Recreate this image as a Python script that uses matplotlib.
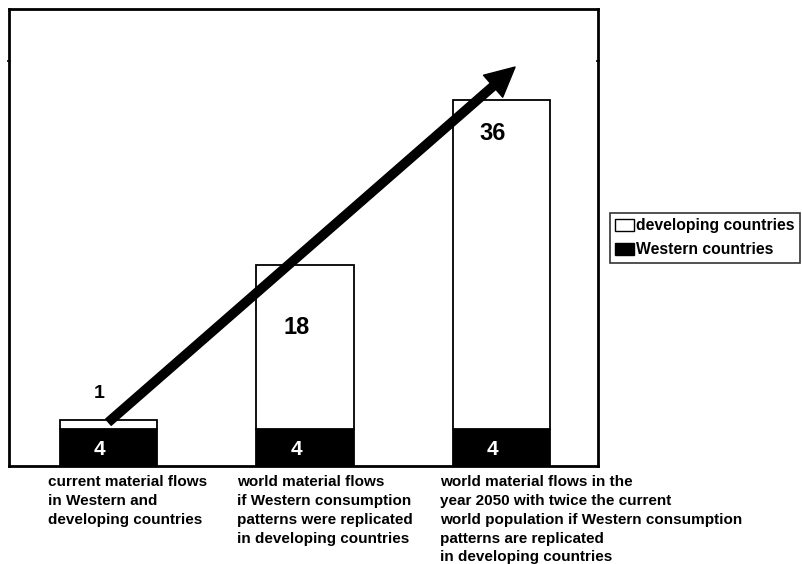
import matplotlib.pyplot as plt
from matplotlib.patches import Patch

plt.rcParams['font.family'] = ['Liberation Sans', 'DejaVu Sans']
plt.rcParams['font.weight'] = 'bold'

# material flows, in units
western = [4, 4, 4]
developing = [1, 18, 36]
labels = [
    "current material flows\nin Western and\ndeveloping countries",
    "world material flows\nif Western consumption\npatterns were replicated\nin developing countries",
    "world material flows in the\nyear 2050 with twice the current\nworld population if Western consumption\npatterns are replicated\nin developing countries",
]
label_x = [48, 237, 440]  # left edge of each caption, in pixels

fig = plt.figure(figsize=(8.02, 5.64), dpi=100)
ax = fig.add_axes([9 / 802, 1 - 466 / 564, 589 / 802, 457 / 564])

x = range(len(western))
w = 0.494
ax.bar(x, western, width=w, color='black', edgecolor='black', linewidth=1.3)
ax.bar(x, developing, width=w, bottom=western, color='white', edgecolor='black', linewidth=1.3)

ax.set_xlim(-0.506, 2.491)
ax.set_ylim(0, 50)
for s in ax.spines.values():
    s.set_linewidth(2)
ax.set_xticks([])
ax.set_yticks([44.3])
ax.set_yticklabels([])
ax.tick_params(axis='y', length=3, width=1.2, direction='inout', right=True)

# values inside / above the bars
dx = -0.045
for i in x:
    ax.text(i + dx, western[i] / 2 - 0.2, str(western[i]), color='white', ha='center',
            va='center', fontsize=15, fontweight='bold')
dev_pos = [7.9, 15.15, 36.4]
dev_size = [14, 17, 17]
for i in x:
    ax.text(i + dx, dev_pos[i], str(developing[i]), color='black', ha='center', va='center',
            fontsize=dev_size[i], fontweight='bold')

# growth arrow
ax.annotate("", xy=(2.069, 43.65), xytext=(0.0, western[0] + developing[0] - 0.2),
            arrowprops=dict(width=6, headwidth=21, headlength=21,
                            facecolor='black', edgecolor='black', shrink=0))

for lx, txt in zip(label_x, labels):
    fig.text(lx / 802, 1 - 475 / 564, txt, ha='left', va='top', fontsize=11,
             fontweight='bold', linespacing=1.44)

handles = [Patch(facecolor='white', edgecolor='black', linewidth=1, label='developing countries'),
           Patch(facecolor='black', edgecolor='black', linewidth=1, label='Western countries')]
leg = fig.legend(handles=handles, loc='upper left', bbox_to_anchor=(610 / 802, 1 - 213 / 564),
                 prop={'weight': 'bold', 'size': 11.3}, frameon=True, fancybox=False,
                 borderpad=0.35, handlelength=1.2, handleheight=0.8, handletextpad=0.08,
                 labelspacing=0.55, borderaxespad=0)
leg.get_frame().set_edgecolor('black')
leg.get_frame().set_linewidth(1.2)

fig.savefig('out.png', dpi=100)
